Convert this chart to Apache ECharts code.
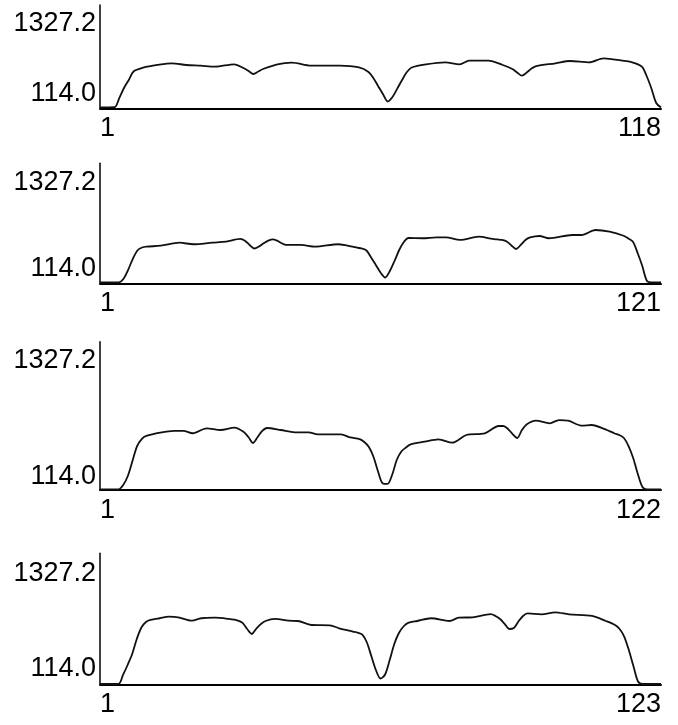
<!DOCTYPE html>
<html>
<head>
<meta charset="utf-8">
<script src="https://cdn.jsdelivr.net/npm/echarts@6/dist/echarts.min.js"></script>
<style>
  html, body { margin: 0; padding: 0; background: #fff; }
  #chart { width: 678px; height: 725px; }
</style>
</head>
<body>
<div id="chart"></div>
<script>
// Axis annotations shared by every run
const yTickValues = [114.0, 1327.2];
const runLengths = [118, 121, 122, 123];

// Run 1 (118 samples)
const idx1 = [1,4,5,6,7,8,10,13,16,19,22,25,29,31,32,33,34,35,38,41,45,51,55,57,58,59,60,61,62,63,64,65,66,69,73,76,78,82,85,87,88,89,90,91,92,96,99,103,106,108,112,114,115,116,117,118];
const val1 = [-135,-132,25,206,346,495,561,609,638,609,596,579,621,551,503,451,495,539,621,649,596,596,565,486,381,241,100,-31,48,195,346,486,565,621,656,621,684,684,609,539,477,421,477,547,591,638,679,656,726,708,656,579,416,197,-57,-135];

// Run 2 (121 samples)
const idx2 = [1,5,6,7,8,9,10,11,14,18,21,25,28,31,32,33,34,35,36,37,38,41,44,47,52,55,56,57,58,59,60,61,62,63,64,65,66,67,70,73,75,78,82,85,86,87,88,89,90,91,92,93,95,97,102,104,107,110,113,114,115,116,117,118,119,121];
const val2 = [-86,-86,-39,88,244,365,407,419,433,475,453,475,489,528,504,443,393,421,467,504,521,443,443,419,453,419,404,393,365,266,159,53,-18,74,216,372,485,542,538,552,552,514,560,528,521,514,492,436,386,443,514,549,570,538,584,584,655,631,574,535,489,329,145,-67,-86,-86];

// Run 3 (122 samples)
const idx3 = [1,5,6,7,8,9,10,11,14,17,19,21,24,27,30,32,33,34,35,36,37,40,43,46,48,53,55,57,58,59,60,61,62,63,64,65,66,67,68,71,74,77,80,84,87,88,89,90,91,92,93,95,98,100,102,105,107,110,112,113,114,115,116,117,118,119,122];
const val3 = [-18,-18,27,121,277,433,506,538,572,590,590,566,618,600,624,579,527,465,527,590,621,600,576,576,555,555,522,506,475,423,319,163,43,38,131,288,376,418,451,478,503,468,548,566,642,642,611,558,517,600,658,697,670,704,697,645,652,607,564,548,517,433,308,142,6,-20,-18];

// Run 4 (123 samples)
const idx4 = [1,5,6,7,8,9,10,11,12,14,16,18,21,23,26,29,31,32,33,34,35,36,37,39,42,44,47,51,53,56,57,58,59,60,61,62,63,64,65,66,67,68,70,73,77,79,82,86,87,88,89,90,91,92,93,94,97,100,103,108,111,113,114,115,116,117,118,119,123];
const val4 = [-86,-86,29,156,296,488,634,704,730,752,772,764,721,752,759,743,723,692,615,551,621,679,717,743,721,717,666,662,624,583,570,545,449,271,92,-16,35,220,424,564,647,692,717,752,717,759,764,804,781,743,679,615,628,711,781,813,802,828,802,781,717,666,615,519,347,143,-54,-86,-86];

const runs = [
  { idx: idx1, val: val1, min: -150, max: 1660 },
  { idx: idx2, val: val2, min: -100, max: 1600 },
  { idx: idx3, val: val3, min: -25,  max: 1520 },
  { idx: idx4, val: val4, min: -90,  max: 1580 }
];

// Panel frames (top offset and plot height in px)
const frames = [
  { top: 5,     height: 103.3 },
  { top: 163.3, height: 120 },
  { top: 341.7, height: 148.3 },
  { top: 553.3, height: 131 }
];

const labelFont = {
  fontFamily: '"Liberation Sans", Arial, sans-serif',
  fontSize: 27,
  color: '#000'
};

const chart = echarts.init(document.getElementById('chart'), null, { renderer: 'canvas' });

chart.setOption({
  animation: false,
  backgroundColor: '#fff',
  grid: frames.map(f => ({
    left: 100, right: 17, top: f.top, height: f.height,
    outerBoundsMode: 'none', containLabel: false
  })),
  xAxis: runs.map((r, i) => ({
    type: 'value',
    gridIndex: i,
    min: 1,
    max: runLengths[i],
    axisLine: { show: true, onZero: false, lineStyle: { color: '#000', width: 2 } },
    axisTick: { show: false },
    splitLine: { show: false },
    axisLabel: Object.assign({
      customValues: [1, runLengths[i]],
      margin: 7,
      alignMinLabel: 'left',
      alignMaxLabel: 'right'
    }, labelFont)
  })),
  yAxis: runs.map((r, i) => ({
    type: 'value',
    gridIndex: i,
    min: r.min,
    max: r.max,
    axisLine: { show: true, onZero: false, lineStyle: { color: '#000', width: 1.5 } },
    axisTick: { show: false },
    splitLine: { show: false },
    axisLabel: Object.assign({
      customValues: yTickValues,
      formatter: v => v.toFixed(1),
      margin: 4
    }, labelFont)
  })),
  series: runs.map((r, i) => ({
    type: 'line',
    xAxisIndex: i,
    yAxisIndex: i,
    data: r.idx.map((x, k) => [x, r.val[k]]),
    showSymbol: false,
    smooth: 0.3,
    silent: true,
    lineStyle: { color: '#111', width: 1.8 }
  }))
});
</script>
</body>
</html>
